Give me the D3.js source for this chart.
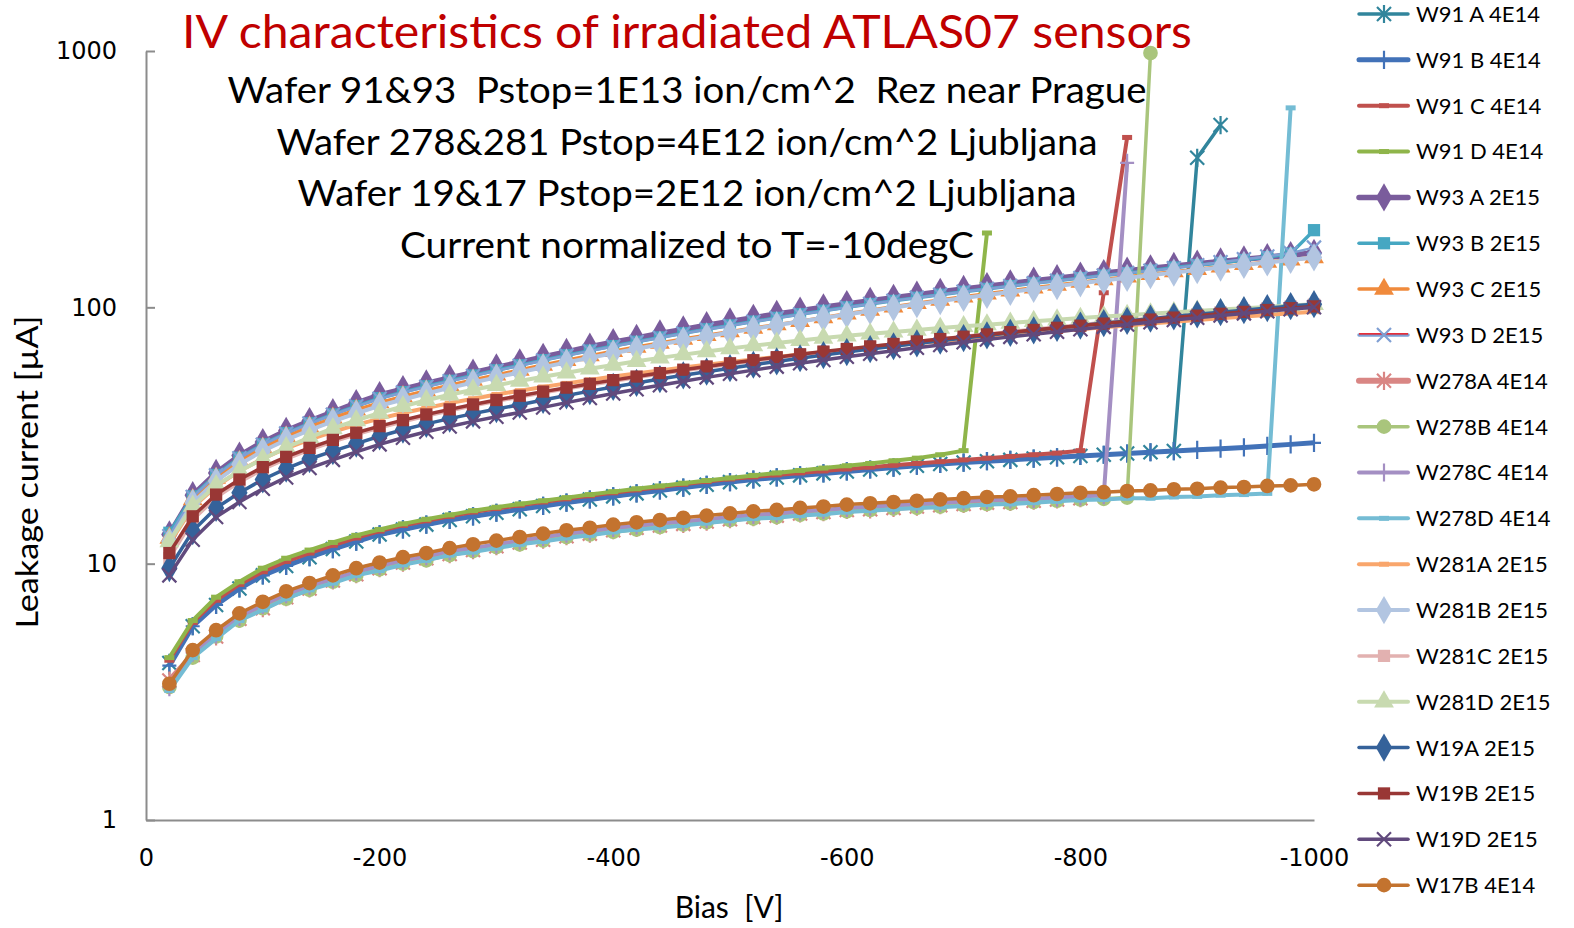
<!DOCTYPE html>
<html>
<head>
<meta charset="utf-8">
<script src="https://cdn.jsdelivr.net/npm/d3@7"></script>
<style>
  body { margin: 0; background: #fff; }
  text { font-family: Lato, "Open Sans", sans-serif; }
</style>
</head>
<body>
<div id="chart"></div>
<script>
// bias points [V]
const bias = [-20,-40,-60,-80,-100,-120,-140,-160,-180,-200,-220,-240,-260,-280,-300,-320,-340,-360,-380,-400,
  -420,-440,-460,-480,-500,-520,-540,-560,-580,-600,-620,-640,-660,-680,-700,-720,-740,-760,-780,-800,
  -820,-840,-860,-880,-900,-920,-940,-960,-980,-1000];

const xTicks = [0,-200,-400,-600,-800,-1000];
const yTicks = [1,10,100,1000];

const seriesNames = ["W91 A 4E14","W91 B 4E14","W91 C 4E14","W91 D 4E14","W93 A 2E15","W93 B 2E15","W93 C 2E15","W93 D 2E15",
  "W278A 4E14","W278B 4E14","W278C 4E14","W278D 4E14","W281A 2E15","W281B 2E15","W281C 2E15","W281D 2E15",
  "W19A 2E15","W19B 2E15","W19D 2E15","W17B 4E14"];

// leakage current [uA], one value per bias point
const w91A = [4.1,5.7,6.9,8.0,9.0,9.8,10.6,11.4,12.2,13.0,13.6,14.2,14.8,15.3,15.8,16.3,16.8,17.3,17.8,18.3,
  18.8,19.3,19.8,20.3,20.8,21.3,21.7,22.1,22.5,22.9,23.3,23.7,24.1,24.5,24.8,25.1,25.4,25.7,26.0,26.3,
  26.6,26.9,27.2,27.5,383,514];
const w91B = [4.0,5.7,6.9,8.0,9.0,9.8,10.6,11.4,12.2,13.0,13.6,14.2,14.8,15.3,15.8,16.3,16.8,17.3,17.8,18.3,
  18.8,19.3,19.8,20.3,20.8,21.3,21.7,22.1,22.5,22.9,23.3,23.7,24.1,24.5,24.8,25.1,25.4,25.7,26.0,26.3,
  26.6,26.9,27.2,27.5,27.8,28.1,28.4,28.8,29.2,29.6];
const w91C = [4.2,5.9,7.2,8.3,9.3,10.2,11.0,11.8,12.6,13.4,14.1,14.7,15.3,15.9,16.4,16.9,17.4,17.9,18.4,18.9,
  19.4,19.9,20.4,20.9,21.4,21.8,22.2,22.6,23.0,23.4,23.8,24.2,24.6,25.0,25.4,25.8,26.2,26.6,27.0,27.6,
  114,460];
const w91D = [4.3,6.0,7.4,8.5,9.6,10.5,11.3,12.1,12.9,13.6,14.3,14.9,15.5,16.1,16.6,17.1,17.6,18.1,18.6,19.1,
  19.6,20.1,20.6,21.1,21.6,22.1,22.6,23.1,23.6,24.1,24.6,25.2,25.8,26.6,27.6,195];
const w93A = [13.0,18.5,22.6,26.4,29.8,33.0,36.0,39.0,42.3,45.5,48.0,50.5,53.0,55.6,58.3,61.0,64.1,67.0,70.2,73.1,
  76.0,79.1,82.0,85.2,88.1,91.0,94.2,97.1,100,103,106,109,112,115,118,121,124,127,130,133,
  136,139,142,145,148,151,154,157,160,163];
const w93B = [13.2,18.3,22.2,25.9,29.2,32.3,35.3,38.2,41.2,44.2,46.7,49.2,51.7,54.2,56.8,59.4,62.2,65.0,67.8,70.6,
  73.4,76.3,79.2,82.1,85.0,88.0,91.0,94.0,97.0,100,103,106,109,112,115,118,121,124,127,130,
  133,136,139,143,146,149,153,157,162,200];
const w93C = [12.6,17.8,21.6,25.1,28.3,31.3,34.2,37.0,39.8,42.5,44.9,47.3,49.7,52.1,54.5,57.0,59.6,62.2,64.8,67.4,
  70.0,72.6,75.2,77.8,80.4,83.0,85.6,88.2,91.3,94.4,97.5,100.6,103.7,106.8,109.9,113.0,116.1,119.2,122.3,125.4,
  128.5,131.6,134.7,137.8,140.9,144.0,147.1,150.2,153.3,156.4];
const w93D = [12.8,18.2,22.1,25.8,29.1,32.2,35.2,38.1,41.1,44.0,46.5,49.0,51.5,54.0,56.6,59.2,62.0,64.8,67.6,70.4,
  73.2,76.1,79.0,81.9,84.8,87.8,90.8,93.8,96.8,99.8,103,106,109,112,115,118,121,124,127,130,
  133,136,139,142,146,150,154,158,163,171];
const w278A = [3.5,4.4,5.2,6.1,6.7,7.4,8.0,8.6,9.1,9.6,10.1,10.5,10.9,11.3,11.7,12.1,12.4,12.8,13.1,13.5,
  13.8,14.1,14.3,14.6,14.9,15.2,15.4,15.7,15.9,16.2,16.3,16.5,16.7,16.9,17.1,17.3,17.4,17.6,17.8,18.0];
const w278B = [3.3,4.3,5.2,6.0,6.7,7.3,7.9,8.5,9.0,9.5,10.0,10.3,10.8,11.2,11.6,11.9,12.3,12.7,13.0,13.3,
  13.6,13.9,14.2,14.5,14.8,15.0,15.2,15.5,15.7,16.0,16.2,16.4,16.5,16.7,16.9,17.1,17.2,17.4,17.6,17.8,
  17.9,18.1,982];
const w278C = [3.3,4.5,5.3,6.2,6.9,7.6,8.2,8.7,9.3,9.8,10.3,10.7,11.2,11.5,11.9,12.3,12.7,13.1,13.4,13.8,
  14.1,14.4,14.6,14.9,15.2,15.5,15.7,16.0,16.2,16.5,16.7,16.9,17.1,17.3,17.5,17.7,17.8,17.9,18.1,18.3,
  18.5,366];
const w278D = [3.2,4.3,5.1,6.0,6.6,7.3,7.9,8.4,9.0,9.4,9.9,10.3,10.8,11.1,11.5,11.9,12.2,12.6,12.9,13.3,
  13.6,13.8,14.1,14.4,14.7,15.0,15.1,15.4,15.6,15.9,16.1,16.3,16.5,16.6,16.8,17.0,17.1,17.3,17.5,17.7,
  17.8,18.0,18.0,18.2,18.3,18.5,18.6,18.8,600];
const w281A = [12.0,16.6,20.0,23.0,25.7,28.2,30.5,32.7,34.8,36.8,38.7,40.5,42.3,44.0,45.7,47.3,48.9,50.5,52.1,53.7,
  55.2,56.7,58.2,59.7,61.2,62.6,64.0,65.4,66.8,68.2,69.6,71.0,72.4,73.8,75.2,76.6,78.0,79.4,80.8,82.2,
  83.6,85.0,86.4,87.8,89.2,90.6,92.0,93.4,94.8,96.2];
const w281B = [12.2,17.3,21.0,24.4,27.5,30.4,33.2,35.9,38.6,41.3,43.7,46.1,48.5,50.9,53.3,55.8,58.4,61.0,63.6,66.2,
  68.9,71.6,74.3,77.0,79.7,82.4,85.2,88.0,90.9,93.8,96.8,99.8,102.8,105.8,108.8,111.8,114.8,117.9,121.0,124.1,
  127.2,130.3,133.4,136.6,139.8,143.0,146.3,149.6,153.0,156.5];
const w281C = [10.5,14.8,18.1,20.8,23.3,25.6,27.8,29.9,31.9,33.9,35.8,37.7,39.5,41.3,43.0,44.7,46.4,48.1,49.8,51.5,
  53.2,54.9,56.6,58.3,60.0,61.7,63.4,65.1,66.8,68.5,70.2,71.9,73.6,75.3,77.0,78.7,80.4,82.1,83.8,85.5,
  87.2,88.9,90.6,92.3,94.0,95.7,97.4,99.1,100.8,102.5];
const w281D = [12.2,16.8,20.2,23.0,25.6,28.4,31.1,33.7,36.2,38.7,41.1,43.4,45.6,47.7,49.7,51.6,53.6,55.6,57.6,59.6,
  61.6,63.5,65.4,67.3,69.1,70.9,72.6,74.3,75.9,77.4,78.8,80.2,81.6,83.0,84.3,85.6,86.9,88.2,89.5,90.8,
  92.0,93.2,94.4,95.6,96.8,98.0,99.2,100.4,101.6,102.8];
const w19A = [9.6,13.4,16.5,18.9,21.3,23.5,25.6,27.5,29.4,31.4,33.3,35.1,36.8,38.5,40.1,41.7,43.5,45.3,47.1,48.9,
  50.7,52.5,54.3,56.1,57.9,59.7,61.5,63.3,65.1,66.9,68.7,70.5,72.3,74.1,75.9,77.7,79.5,81.3,83.1,84.9,
  86.7,88.5,90.3,92.1,93.9,95.7,97.5,99.3,101.1,102.9];
const w19B = [11.0,15.3,18.6,21.3,23.8,26.1,28.3,30.4,32.4,34.4,36.3,38.2,40.0,41.8,43.5,45.2,46.9,48.6,50.3,52.0,
  53.7,55.4,57.1,58.8,60.5,62.2,63.9,65.6,67.2,68.8,70.4,72.0,73.6,75.2,76.8,78.4,80.0,81.6,83.2,84.8,
  86.4,88.0,89.6,91.2,92.8,94.4,96.0,97.6,99.2,100.8];
const w19D = [9.0,12.4,15.2,17.4,19.6,21.7,23.6,25.4,27.3,29.2,31.0,32.7,34.3,35.9,37.4,38.9,40.7,42.5,44.3,46.1,
  47.9,49.7,51.5,53.3,55.1,56.9,58.7,60.5,62.3,64.1,65.9,67.7,69.5,71.3,73.1,74.9,76.7,78.5,80.3,82.1,
  83.9,85.7,87.5,89.3,91.1,92.9,94.7,96.5,98.3,100.1];
const w17B = [3.4,4.6,5.5,6.4,7.1,7.8,8.4,9.0,9.6,10.1,10.6,11.0,11.5,11.9,12.3,12.7,13.1,13.5,13.8,14.2,
  14.5,14.8,15.1,15.4,15.7,16.0,16.2,16.5,16.7,17.0,17.2,17.4,17.6,17.8,18.0,18.2,18.3,18.5,18.7,18.9,
  19.0,19.2,19.3,19.5,19.6,19.8,19.9,20.1,20.2,20.4];

const allValues = [w91A,w91B,w91C,w91D,w93A,w93B,w93C,w93D,w278A,w278B,w278C,w278D,
  w281A,w281B,w281C,w281D,w19A,w19B,w19D,w17B];

// styles per series
const colors = ["#31859c","#4272b8","#c0504d","#8fb54a","#7a5c9c","#46a7c2","#f08a3c","#7f9fd3",
  "#d98684","#a9c57c","#a48fc3","#74bcd4","#f9a66c","#b2c5e1","#e2b1b0","#c8dab0",
  "#35629a","#993735","#614a7d","#c3732f"];
const widths = [3.5,5,4,4,5.5,3.5,3.5,2.5,6,3.5,4,4,4,4,3.5,4,3.5,3.5,3.5,3.5];
const markers = ["star","plus","dash","dash","diamond","square","triangle","x","star","circle","plus","dash",
  "dash","diamond","square","triangle","diamond","square","x","circle"];

const width = 1574, height = 928;
const svg = d3.select("#chart").append("svg")
  .attr("width", width).attr("height", height);

const x = d3.scaleLinear().domain([0, -1000]).range([146, 1314]);
const y = d3.scaleLog().domain([1, 1000]).range([820, 51]);

// axes
const yAxis = svg.append("g").attr("transform", "translate(146,0)")
  .call(d3.axisLeft(y).tickValues(yTicks).tickFormat(d3.format("d")).tickSizeInner(-9).tickSizeOuter(0).tickPadding(29));
const xAxis = svg.append("g").attr("transform", "translate(0,820)")
  .call(d3.axisBottom(x).tickValues(xTicks).tickFormat(d => d).tickSizeInner(0).tickSizeOuter(0).tickPadding(36));
[yAxis, xAxis].forEach(a => {
  a.select(".domain").attr("stroke", "#8c8c8c").attr("stroke-width", 2);
  a.selectAll(".tick line").attr("stroke", "#8c8c8c").attr("stroke-width", 2);
  a.selectAll(".tick text").attr("fill", "#000").style("font-family", "'DejaVu Sans'").style("font-size", "24px");
});
xAxis.selectAll(".tick text").attr("dy", "0.4em");

function markerPath(type, s) {
  if (type === "star") return `M${-s},${-s}L${s},${s}M${-s},${s}L${s},${-s}M0,${-s * 1.3}L0,${s * 1.3}`;
  if (type === "plus") return `M${-s},0L${s},0M0,${-s * 1.3}L0,${s * 1.3}`;
  if (type === "x") return `M${-s},${-s}L${s},${s}M${-s},${s}L${s},${-s}`;
  if (type === "dash") return `M${-s},0L${s},0`;
  return null;
}
const filled = { diamond: [d3.symbolDiamond, 230], square: [d3.symbolSquare, 150], triangle: [d3.symbolTriangle, 170], circle: [d3.symbolCircle, 170] };

function drawMarker(g, type, color, cx, cy) {
  if (filled[type]) {
    g.append("path").attr("transform", `translate(${cx},${cy})`)
      .attr("d", d3.symbol().type(filled[type][0]).size(filled[type][1])())
      .attr("fill", color);
  } else {
    const s = type === "dash" ? 5 : 7;
    g.append("path").attr("transform", `translate(${cx},${cy})`)
      .attr("d", markerPath(type, s))
      .attr("fill", "none").attr("stroke", color)
      .attr("stroke-width", type === "dash" ? 5 : 2.2);
  }
}

const line = d3.line().x((d, i) => x(bias[i])).y(d => y(d));

const plot = svg.append("g");
allValues.forEach((vals, k) => {
  const g = plot.append("g");
  g.append("path").attr("d", line(vals))
    .attr("fill", "none").attr("stroke", colors[k])
    .attr("stroke-width", widths[k]).attr("stroke-linejoin", "round");
  vals.forEach((v, i) => drawMarker(g, markers[k], colors[k], x(bias[i]), y(v)));
});

// legend
const legend = svg.append("g");
seriesNames.forEach((name, k) => {
  const ly = 14 + k * 45.85;
  const g = legend.append("g");
  g.append("line").attr("x1", 1359).attr("x2", 1408).attr("y1", ly).attr("y2", ly)
    .attr("stroke", colors[k]).attr("stroke-width", Math.max(widths[k], 3.5)).attr("stroke-linecap", "round");
  if (name === "W93 D 2E15") {
    g.append("line").attr("x1", 1359).attr("x2", 1408).attr("y1", ly - 1).attr("y2", ly - 1)
      .attr("stroke", "#ff0000").attr("stroke-width", 1.2);
  }
  drawMarker(g, markers[k], colors[k], 1384, ly);
  g.append("text").attr("x", 1416).attr("y", ly).attr("dy", "0.36em")
    .style("font-size", "22px").text(name);
});

// titles
svg.append("text").attr("x", 687).attr("y", 48).attr("text-anchor", "middle")
  .attr("fill", "#c00000").style("font-size", "47px")
  .attr("textLength", 1010).attr("lengthAdjust", "spacingAndGlyphs")
  .text("IV characteristics of irradiated ATLAS07 sensors");

const subLines = [
  ["Wafer 91&93  Pstop=1E13 ion/cm^2  Rez near Prague", 103, 919],
  ["Wafer 278&281 Pstop=4E12 ion/cm^2 Ljubljana", 155, 821],
  ["Wafer 19&17 Pstop=2E12 ion/cm^2 Ljubljana", 206, 779],
  ["Current normalized to T=-10degC", 258, 574]
];
subLines.forEach(([t, by, len]) => {
  svg.append("text").attr("x", 687).attr("y", by).attr("text-anchor", "middle")
    .attr("fill", "#000").style("font-size", "36px")
    .attr("textLength", len).attr("lengthAdjust", "spacingAndGlyphs")
    .style("white-space", "pre").attr("xml:space", "preserve")
    .text(t);
});

svg.append("text").attr("transform", "translate(38,472) rotate(-90)").attr("text-anchor", "middle")
  .style("font-size", "30px").attr("textLength", 313).attr("lengthAdjust", "spacingAndGlyphs")
  .text("Leakage current [µA]");
svg.append("text").attr("x", 729).attr("y", 918).attr("text-anchor", "middle")
  .style("font-size", "30px").attr("xml:space", "preserve").style("white-space", "pre")
  .text("Bias  [V]");
</script>
</body>
</html>
